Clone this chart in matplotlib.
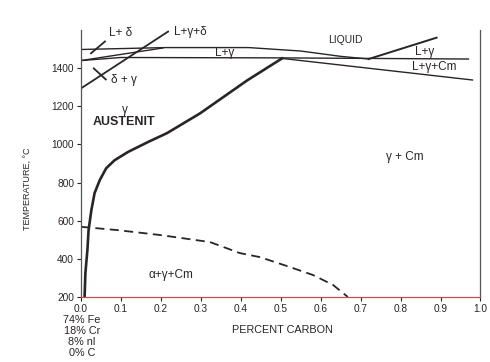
import matplotlib
matplotlib.use('Agg')
import matplotlib.pyplot as plt

plt.rcParams['font.family'] = ['Liberation Sans', 'DejaVu Sans']

INK = '#2b2424'

# boundary lines (percent carbon, temperature C)
liq_x = [0.0, 0.21, 0.42, 0.55, 0.65, 0.72]
liq_t = [1498, 1508, 1508, 1490, 1462, 1448]

solidus_x = [0.0, 0.1, 0.5, 0.97]
solidus_t = [1440, 1456, 1454, 1448]

liq_cm_x = [0.72, 0.89]
liq_cm_t = [1448, 1560]

lgc_x = [0.50, 0.98]
lgc_t = [1452, 1338]

delta_x = [0.0, 0.205]
delta_t = [1440, 1506]

gd_x = [0.0, 0.218]
gd_t = [1294, 1592]

ld_ptr_x = [0.025, 0.06]
ld_ptr_t = [1478, 1540]

dg_ptr_x = [0.032, 0.062]
dg_ptr_t = [1399, 1341]

acm_x = [0.009, 0.011, 0.016, 0.019, 0.026, 0.034, 0.047, 0.063, 0.084,
         0.118, 0.168, 0.215, 0.298, 0.416, 0.503]
acm_t = [200, 326, 446, 551, 656, 745, 813, 875, 917,
         961, 1013, 1059, 1163, 1336, 1451]

a1_x = [0.0, 0.09, 0.198, 0.323, 0.398, 0.448, 0.523, 0.581, 0.631, 0.668]
a1_t = [568, 551, 525, 488, 430, 409, 357, 315, 263, 200]

x_ticks = [round(i * 0.1, 1) for i in range(11)]
y_ticks = [200, 400, 600, 800, 1000, 1200, 1400]

fig = plt.figure(figsize=(4.9, 3.62), dpi=100)
ax = fig.add_axes([0.1653, 0.1796, 0.8153, 0.7374])

thin = dict(color=INK, lw=1.0)
ax.plot(liq_x, liq_t, **thin)
ax.plot(solidus_x, solidus_t, **thin)
ax.plot(liq_cm_x, liq_cm_t, color=INK, lw=1.4)
ax.plot(lgc_x, lgc_t, **thin)
ax.plot(delta_x, delta_t, **thin)
ax.plot(gd_x, gd_t, color=INK, lw=1.3)
ax.plot(ld_ptr_x, ld_ptr_t, color=INK, lw=1.3)
ax.plot(dg_ptr_x, dg_ptr_t, color=INK, lw=1.3)
ax.plot(acm_x, acm_t, color=INK, lw=1.9)
ax.plot(a1_x, a1_t, color=INK, lw=1.3, dashes=(5, 3))

ax.set_xlim(0, 1.0)
ax.set_ylim(200, 1600)
ax.set_xticks(x_ticks)
ax.set_xticklabels([f'{v:.1f}' for v in x_ticks])
ax.set_yticks(y_ticks)
ax.tick_params(labelsize=7.3, colors=INK, length=3, width=0.8, pad=2)
ax.spines['top'].set_visible(False)
for s in ['left', 'right', 'bottom']:
    ax.spines[s].set_color('#555555')
    ax.spines[s].set_linewidth(0.9)
ax.spines['bottom'].set_color('#c0504d')

fs = 8.5
ax.text(0.098, 1582, 'L+ δ', fontsize=fs, color=INK, ha='center', va='center')
ax.text(0.275, 1588, 'L+γ+δ', fontsize=fs, color=INK, ha='center', va='center')
ax.text(0.36, 1482, 'L+γ', fontsize=fs, color=INK, ha='center', va='center')
ax.text(0.661, 1546, 'LIQUID', fontsize=7.5, color=INK, ha='center', va='center')
ax.text(0.861, 1483, 'L+γ', fontsize=fs, color=INK, ha='center', va='center')
ax.text(0.884, 1404, 'L+γ+Cm', fontsize=fs, color=INK, ha='center', va='center')
ax.text(0.108, 1336, 'δ + γ', fontsize=fs, color=INK, ha='center', va='center')
ax.text(0.11, 1180, 'γ', fontsize=fs, color=INK, ha='center', va='center')
ax.text(0.108, 1116, 'AUSTENIT', fontsize=9, fontweight='bold', color=INK,
        ha='center', va='center')
ax.text(0.811, 933, 'γ + Cm', fontsize=fs, color=INK, ha='center', va='center')
ax.text(0.225, 315, 'α+γ+Cm', fontsize=fs, color=INK, ha='center', va='center')

fig.text(282 / 490, 1 - 330 / 362, 'PERCENT CARBON', fontsize=7.8, color=INK,
         ha='center', va='center')
for i, s in enumerate(['74% Fe', '18% Cr', '8% nl', '0% C']):
    fig.text(82 / 490, 1 - (320 + 11 * i) / 362, s, fontsize=7.8, color=INK,
             ha='center', va='center')
fig.text(27 / 490, 1 - 189 / 362, 'TEMPERATURE, °C', fontsize=6.5, color=INK,
         rotation=90, ha='center', va='center')

fig.savefig('out.png', dpi=100)
